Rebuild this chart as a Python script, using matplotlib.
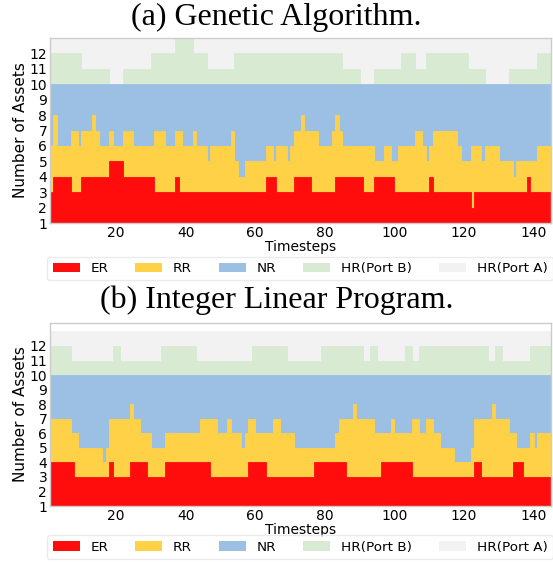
import numpy as np
import matplotlib
matplotlib.use("Agg")
import matplotlib.pyplot as plt
from matplotlib.patches import Patch

# ---- data: (value, run length) for the top of each stacked layer, timesteps 1..144 ----
# (a) Genetic Algorithm
ga_er_top = [(3,1),(4,5),(3,3),(4,8),(5,4),(4,9),(3,6),(4,1),(3,25),(4,3),(3,5),(4,5),
             (3,7),(4,8),(3,3),(4,6),(3,10),(4,1),(3,11),(2,1),(3,15),(4,1),(3,6)]
ga_rr_top = [(6,1),(8,1),(6,4),(7,2),(6,1),(7,3),(8,1),(7,1),(6,3),(7,1),(6,3),(7,3),(6,6),
             (7,3),(6,3),(7,2),(6,3),(7,1),(6,3),(5,1),(6,6),(7,1),(5,1),(4,2),(5,6),(6,2),
             (5,1),(6,3),(5,1),(6,1),(7,2),(8,1),(7,4),(6,4),(7,1),(8,1),(7,1),(6,9),(5,3),
             (6,2),(5,2),(6,5),(7,2),(6,1),(5,1),(6,1),(7,7),(6,1),(5,3),(6,3),(5,1),(6,4),
             (5,4),(4,1),(5,6),(6,4)]
ga_nr_top = [(10,144)]
ga_hrb_top = [(12,9),(11,8),(10,4),(11,8),(12,7),(13,5),(12,4),(11,8),(12,31),(11,5),(10,4),
              (11,8),(12,4),(11,3),(12,12),(11,5),(10,7),(11,8),(12,4)]
ga_hra_top = [(13,144)]

# (b) Integer Linear Program
ilp_er_top = [(4,7),(3,10),(4,1),(3,5),(4,5),(3,5),(4,13),(3,11),(4,5),(3,14),(4,9),(3,10),
              (4,9),(3,18),(4,2),(3,9),(4,3),(3,8)]
ilp_rr_top = [(7,6),(6,2),(5,7),(4,1),(5,1),(7,6),(8,1),(7,2),(6,3),(5,4),(6,10),(7,5),(6,3),
              (7,1),(6,3),(5,1),(6,1),(7,2),(6,5),(7,2),(6,4),(5,12),(6,1),(7,4),(8,1),(7,5),
              (6,5),(7,1),(6,5),(7,2),(6,2),(7,2),(6,2),(5,4),(4,5),(5,1),(7,5),(8,1),(7,4),
              (6,2),(5,4),(6,1),(5,1),(6,4)]
ilp_nr_top = [(10,144)]
ilp_hrb_top = [(12,6),(11,12),(12,2),(11,12),(12,10),(11,16),(12,10),(11,10),(12,12),(11,2),
               (12,2),(11,8),(12,2),(11,2),(12,20),(11,2),(12,2),(11,8),(12,6)]
ilp_hra_top = [(13,144)]

labels = ["ER", "RR", "NR", "HR(Port B)", "HR(Port A)"]
colors = ["#ff0d0d", "#ffd147", "#9bc0e3", "#d9ead3", "#f2f2f2"]
titles = ["(a) Genetic Algorithm.", "(b) Integer Linear Program."]
xticks = [20, 40, 60, 80, 100, 120, 140]
yticks = list(range(1, 13))


def expand(runs):
    vals = np.concatenate([np.full(n, v, dtype=float) for v, n in runs])
    return np.append(vals, vals[-1])  # extra point so the last step has width


fig = plt.figure(figsize=(5.53, 5.63), dpi=100)
panels = [
    ([ga_er_top, ga_rr_top, ga_nr_top, ga_hrb_top, ga_hra_top], [0.0904, 0.6039, 0.906, 0.3286], 13.0),
    ([ilp_er_top, ilp_rr_top, ilp_nr_top, ilp_hrb_top, ilp_hra_top], [0.0904, 0.1012, 0.906, 0.3256], 13.6),
]
title_y = [0.969, 0.467]
leg_y = [0.556, 0.061]

for i, (tops, rect, ytop) in enumerate(panels):
    ax = fig.add_axes(rect)
    x = np.arange(1, 146)
    # draw from the top layer down, each filled from the floor, so layers overlap cleanly
    for runs, c in reversed(list(zip(tops, colors))):
        upper = expand(runs)
        ax.fill_between(x, 0, upper, step="post", facecolor=c, edgecolor=c, linewidth=0.6)
    ax.set_xlim(1, 145)
    ax.set_ylim(1, ytop)
    ax.set_xticks(xticks)
    ax.set_yticks(yticks)
    ax.tick_params(length=0, pad=2, labelsize=10)
    for s in ax.spines.values():
        s.set_color("#cccccc")
        s.set_linewidth(1.0)
        s.set_zorder(5)
    ax.set_xlabel("Timesteps", fontsize=10, labelpad=0)
    ax.set_ylabel("Number of Assets", fontsize=11, labelpad=1)
    fig.text(0.5, title_y[i], titles[i], ha="center", va="center",
             fontsize=23, family="Liberation Serif")
    handles = [Patch(facecolor=c, edgecolor="none", label=l) for c, l in zip(colors, labels)]
    fig.legend(handles=handles, loc="upper center", bbox_to_anchor=(0.5425, leg_y[i]),
               ncol=5, fontsize=9.7, frameon=True, edgecolor="#e6e6e6", fancybox=True,
               columnspacing=2.0, handlelength=2.0, borderpad=0.4)

fig.savefig("out.png", dpi=100)
